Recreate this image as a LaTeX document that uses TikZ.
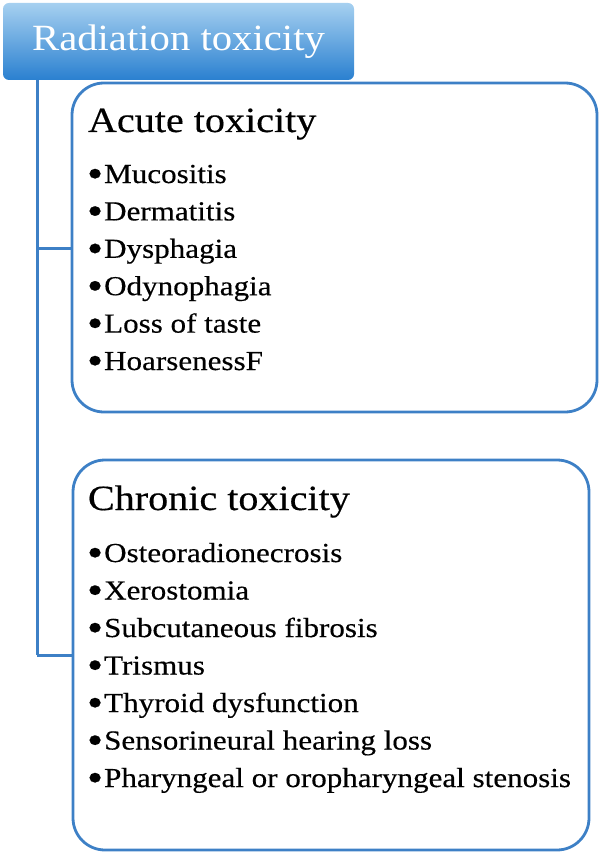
\documentclass[tikz,border=0pt]{standalone}
\usepackage{fontspec}
\setmainfont{Liberation Serif}[FakeStretch=1.13, FakeBold=0.4]
\newfontfamily\headfont{Liberation Serif}[FakeStretch=1.1]
\usepackage{xcolor}
\usetikzlibrary{positioning}
\definecolor{linkblue}{HTML}{3D80C6}
\definecolor{headtop}{HTML}{A6D0F0}
\definecolor{headbot}{HTML}{2A80D0}
\newcommand{\dotmark}{\raisebox{-2.5pt}{\scalebox{1.3}{\bfseries•}}\kern2pt}

\begin{document}
\begin{tikzpicture}[x=1pt,y=-1pt]
 \tikzstyle{every node}=[inner sep=0pt, outer sep=0pt]
 \tikzstyle{head}=[rounded corners=6pt, top color=headtop, bottom color=headbot,
                   minimum width=351pt, minimum height=77pt, text=white,
                   font=\headfont\fontsize{37}{40}\selectfont]
 \tikzstyle{group}=[draw=linkblue, line width=2.8pt, rounded corners=32pt,
                    anchor=north west]
 \tikzstyle{title}=[anchor=base west, font=\fontsize{35.5}{38}\selectfont]
 \tikzstyle{item}=[anchor=base west, font=\fontsize{27.5}{30}\selectfont]
 \tikzstyle{link}=[draw=linkblue, line width=3pt]

        \useasboundingbox (0,0) rectangle (599,853);

        \node[head] (rad) at (178.5,41.5) {Radiation toxicity};

        \node[group, minimum width=525pt, minimum height=329pt] (acute) at (72,83) {};
        \node[group, minimum width=516pt, minimum height=390pt] (chronic) at (73,460) {};

        % acute list
        \node[title] (At) at (88,132) {Acute toxicity};
        \node[item] (A1) at (88,183) {\dotmark Mucositis};
        \node[item] (A2) at (88,220.4) {\dotmark Dermatitis};
        \node[item] (A3) at (88,257.8) {\dotmark Dysphagia};
        \node[item] (A4) at (88,295.2) {\dotmark Odynophagia};
        \node[item] (A5) at (88,332.6) {\dotmark Loss of taste};
        \node[item] (A6) at (88,370) {\dotmark HoarsenessF};

        % chronic list
        \node[title] (Ct) at (88,510) {Chronic toxicity};
        \node[item] (C1) at (88,562) {\dotmark Osteoradionecrosis};
        \node[item] (C2) at (88,599.5) {\dotmark Xerostomia};
        \node[item] (C3) at (88,637) {\dotmark Subcutaneous fibrosis};
        \node[item] (C4) at (88,674.5) {\dotmark Trismus};
        \node[item] (C5) at (88,712) {\dotmark Thyroid dysfunction};
        \node[item] (C6) at (88,749.5) {\dotmark Sensorineural hearing loss};
        \node[item] (C7) at (88,787) {\dotmark Pharyngeal or oropharyngeal stenosis};

        \coordinate (top) at (37,80);
        \coordinate (J1) at (37,248);
        \coordinate (J2) at (37,655);

        \path[link]
    (top) edge (J2)
    (J1) edge (acute.west |- J1)
    (J2) edge (chronic.west |- J2);

\end{tikzpicture}
\end{document}
